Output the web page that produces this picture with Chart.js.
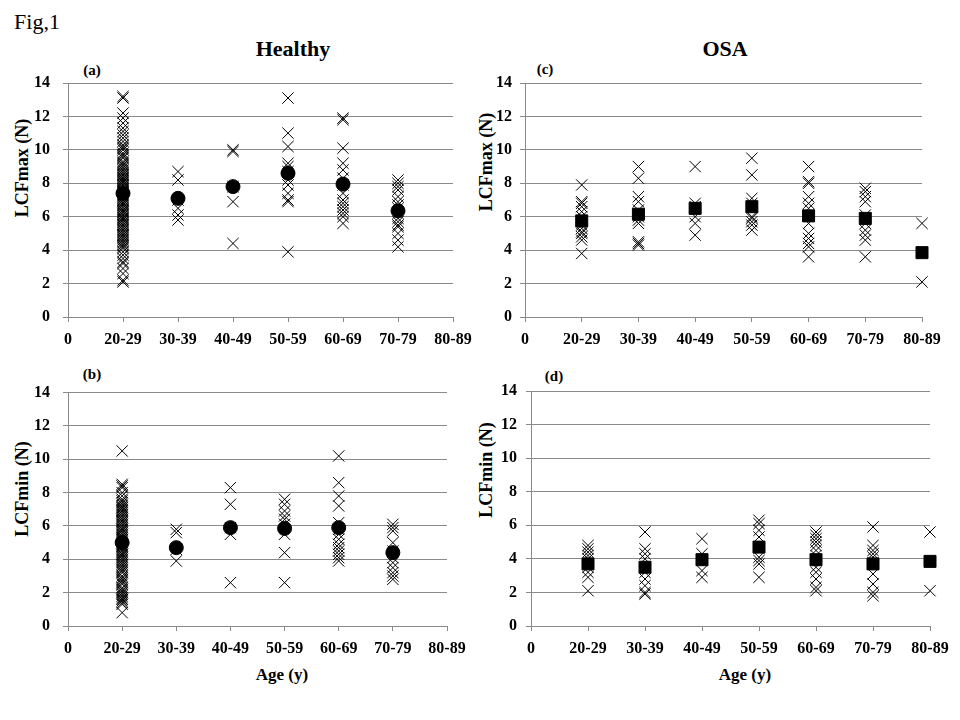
<!DOCTYPE html>
<html>
<head>
<meta charset="utf-8">
<script src="https://cdn.jsdelivr.net/npm/chart.js@4.4.1/dist/chart.umd.min.js"></script>
<style>
  body { margin: 0; background: #fff; }
  #fig { position: relative; width: 960px; height: 720px; background: #fff; font-family: "Liberation Serif", "Times New Roman", serif; color: #000; }
  canvas { position: absolute; }
  .txt { position: absolute; white-space: nowrap; transform: translate(-50%, -50%); line-height: 1; }
  .b { font-weight: bold; }
  .rot { transform: translate(-50%, -50%) rotate(-90deg); }
</style>
</head>
<body>
<div id="fig">
  <div class="txt" style="left:37px;top:22px;font-size:22px;">Fig,1</div>
  <div class="txt b" style="left:293px;top:49px;font-size:22px;">Healthy</div>
  <div class="txt b" style="left:725px;top:49px;font-size:22px;">OSA</div>

  <div class="txt b" style="left:92px;top:70px;font-size:15px;">(a)</div>
  <div class="txt b" style="left:545px;top:69px;font-size:15px;">(c)</div>
  <div class="txt b" style="left:92px;top:374px;font-size:15px;">(b)</div>
  <div class="txt b" style="left:554px;top:376px;font-size:15px;">(d)</div>

  <div class="txt b rot" style="left:22px;top:168px;font-size:18px;">LCFmax (N)</div>
  <div class="txt b rot" style="left:486px;top:162px;font-size:18px;">LCFmax (N)</div>
  <div class="txt b rot" style="left:22px;top:489px;font-size:18px;">LCFmin (N)</div>
  <div class="txt b rot" style="left:486px;top:470px;font-size:18px;">LCFmin (N)</div>

  <div class="txt b" style="left:282px;top:674px;font-size:17px;">Age (y)</div>
  <div class="txt b" style="left:745px;top:674px;font-size:17px;">Age (y)</div>

  <canvas id="panelA" width="480" height="300" style="left:0;top:60px;"></canvas>
  <canvas id="panelC" width="480" height="300" style="left:480px;top:60px;"></canvas>
  <canvas id="panelB" width="480" height="300" style="left:0;top:370px;"></canvas>
  <canvas id="panelD" width="480" height="300" style="left:480px;top:370px;"></canvas>
</div>

<script>
// x tick labels (x = 0 .. 7)
const ageLabels = ["0", "20-29", "30-39", "40-49", "50-59", "60-69", "70-79", "80-89"];
const yTicks = [0, 2, 4, 6, 8, 10, 12, 14];

// (a) Healthy, LCFmax - individual values per age group
const healthyMax = [
  [13.2, 13.1, 12.2, 11.9, 11.6, 11.3, 11.1, 10.9, 10.7, 10.5, 10.3, 10.1, 10.0, 9.8, 9.7, 9.5, 9.3, 9.2, 9.0, 8.9,
   8.8, 8.6, 8.5, 8.4, 8.3, 8.2, 8.1, 8.0, 7.9, 7.8, 7.6, 7.5, 7.4, 7.3, 7.1, 7.0, 6.9, 6.8, 6.7, 6.5,
   6.4, 6.3, 6.2, 6.0, 5.9, 5.8, 5.6, 5.5, 5.4, 5.3, 5.1, 5.0, 4.9, 4.8, 4.6, 4.5, 4.4, 4.2, 4.1, 3.9,
   3.7, 3.5, 3.3, 3.2, 2.9, 2.6, 2.2, 2.1,
   10.2, 9.6, 9.1, 8.7, 8.5, 8.3, 8.1, 7.9, 7.7, 7.5, 7.2, 7.0, 6.8, 6.6, 6.3, 6.1, 5.9, 5.7, 5.5, 5.2, 4.9, 4.7, 4.3],
  [8.7, 8.2, 7.0, 6.5, 6.1, 5.8],
  [10.0, 9.9, 7.8, 6.9, 4.4],
  [13.1, 11.0, 10.2, 9.2, 9.0, 8.7, 8.2, 7.9, 7.4, 7.0, 6.9, 3.9],
  [11.9, 11.8, 10.1, 9.2, 8.8, 8.3, 7.9, 7.4, 7.0, 6.8, 6.6, 6.4, 6.2, 6.0, 5.6],
  [8.2, 8.0, 7.8, 7.6, 7.2, 6.9, 6.7, 6.5, 6.2, 5.9, 5.7, 5.5, 5.4, 5.0, 4.6, 4.2]
];
const healthyMaxMean = [7.4, 7.1, 7.8, 8.6, 7.95, 6.35];

// (b) Healthy, LCFmin
const healthyMin = [
  [10.5, 8.5, 8.3, 8.0, 7.8, 7.6, 7.4, 7.3, 7.2, 7.1, 7.0, 6.9, 6.8, 6.7, 6.5, 6.4, 6.3, 6.2, 6.0, 5.9,
   5.8, 5.7, 5.5, 5.4, 5.3, 5.2, 5.0, 4.9, 4.8, 4.7, 4.5, 4.4, 4.3, 4.2, 4.0, 3.9, 3.8, 3.6, 3.5, 3.4,
   3.2, 3.0, 2.9, 2.8, 2.6, 2.5, 2.3, 2.2, 2.0, 1.9, 1.7, 1.6, 1.5, 1.4, 1.3, 0.8,
   8.4, 7.5, 7.1, 6.9, 6.6, 6.3, 6.1, 5.8, 5.6, 5.3, 5.1, 4.8, 4.6, 4.3, 4.1, 3.7, 3.3, 2.7, 2.1, 1.8, 1.6],
  [5.8, 5.6, 4.6, 3.9],
  [8.3, 7.3, 5.9, 5.5, 2.6],
  [7.6, 7.3, 6.9, 6.6, 6.4, 6.1, 5.5, 4.4, 2.6],
  [10.2, 8.6, 7.8, 7.2, 6.2, 5.8, 5.5, 5.2, 4.9, 4.7, 4.5, 4.3, 4.1, 3.9],
  [6.1, 5.9, 5.7, 5.0, 4.5, 4.1, 3.8, 3.5, 3.2, 3.0, 2.8]
];
const healthyMinMean = [5.0, 4.7, 5.9, 5.85, 5.9, 4.4];

// (c) OSA, LCFmax
const osaMax = [
  [7.9, 6.9, 6.8, 6.6, 6.3, 6.0, 5.5, 5.3, 5.1, 5.0, 4.8, 4.6, 3.8],
  [9.0, 8.3, 7.2, 6.9, 6.4, 6.0, 5.8, 5.6, 4.5, 4.4, 4.3],
  [9.0, 6.8, 6.6, 6.0, 5.6, 4.9],
  [9.5, 8.5, 7.1, 6.8, 6.0, 5.9, 5.7, 5.5, 5.2],
  [9.0, 8.1, 8.0, 7.2, 6.8, 6.5, 6.1, 5.6, 5.0, 4.7, 4.4, 4.2, 3.6],
  [7.7, 7.5, 7.2, 6.9, 6.1, 5.6, 5.2, 4.9, 4.6, 3.6],
  [5.6, 2.1]
];
const osaMaxMean = [5.75, 6.15, 6.5, 6.6, 6.05, 5.9, 3.85];

// (d) OSA, LCFmin
const osaMin = [
  [4.8, 4.6, 4.4, 4.2, 4.0, 3.5, 3.2, 2.9, 2.1],
  [5.6, 4.6, 4.3, 4.0, 3.2, 2.8, 2.4, 2.0, 1.9],
  [5.2, 4.3, 3.3, 2.9],
  [6.3, 6.1, 5.7, 5.3, 4.7, 4.1, 3.9, 3.7, 2.9],
  [5.6, 5.4, 5.2, 5.0, 4.8, 4.5, 4.2, 3.5, 3.2, 2.8, 2.3, 2.1],
  [5.9, 4.8, 4.5, 4.3, 4.1, 3.1, 2.5, 2.0, 1.8],
  [5.6, 2.1]
];
const osaMinMean = [3.7, 3.5, 3.95, 4.7, 3.95, 3.7, 3.85];

const gray = "#8a8a8a";
const tickFont = { family: "'Liberation Serif', 'Times New Roman', serif", size: 16, weight: "bold" };

function makePanel(id, raw, means, meanStyle, meanRadius, box) {
  const points = [];
  raw.forEach((vals, i) => {
    vals.forEach(v => points.push({ x: i + 1, y: v }));
  });

  const ctx = document.getElementById(id).getContext("2d");
  return new Chart(ctx, {
    type: "scatter",
    data: {
      datasets: [
        {
          data: means.map((v, i) => ({ x: i + 1, y: v })),
          pointStyle: meanStyle,
          pointRadius: meanRadius,
          backgroundColor: "#000",
          borderColor: "#000",
          borderWidth: 1,
          clip: false
        },
        {
          data: points,
          pointStyle: "crossRot",
          pointRadius: 8,
          borderColor: "#000",
          backgroundColor: "rgba(0,0,0,0)",
          borderWidth: 1,
          clip: false
        }
      ]
    },
    options: {
      responsive: false,
      animation: false,
      events: [],
      layout: { padding: { top: box.padTop, right: box.padRight, left: 0, bottom: 0 } },
      plugins: { legend: { display: false }, tooltip: { enabled: false } },
      scales: {
        x: {
          type: "linear",
          min: 0,
          max: ageLabels.length - 1,
          afterFit: (scale) => { scale.height = box.xh; },
          afterBuildTicks: (scale) => { scale.ticks = ageLabels.map((l, i) => ({ value: i })); },
          ticks: {
            callback: (v) => ageLabels[v],
            font: tickFont,
            color: "#000",
            padding: 8,
            maxRotation: 0,
            autoSkip: false
          },
          grid: { drawOnChartArea: false, drawTicks: true, tickLength: 5, color: gray },
          border: { color: gray }
        },
        y: {
          min: 0,
          max: 14,
          afterFit: (scale) => { scale.width = box.yw; },
          afterBuildTicks: (scale) => { scale.ticks = yTicks.map(v => ({ value: v })); },
          ticks: { font: tickFont, color: "#000", padding: box.yPad },
          grid: { color: gray, tickLength: 5 },
          border: { color: gray }
        }
      }
    }
  });
}

makePanel("panelA", healthyMax, healthyMaxMean, "circle", 7, { yw: 68, padTop: 23, padRight: 27, xh: 43, yPad: 13 });
makePanel("panelB", healthyMin, healthyMinMean, "circle", 7, { yw: 68, padTop: 21, padRight: 33, xh: 44, yPad: 13 });
makePanel("panelC", osaMax, osaMaxMean, "rect", 8.5, { yw: 45, padTop: 23, padRight: 38, xh: 43, yPad: 8 });
makePanel("panelD", osaMin, osaMinMean, "rect", 8.5, { yw: 51, padTop: 21, padRight: 30, xh: 44, yPad: 9 });
</script>
</body>
</html>
